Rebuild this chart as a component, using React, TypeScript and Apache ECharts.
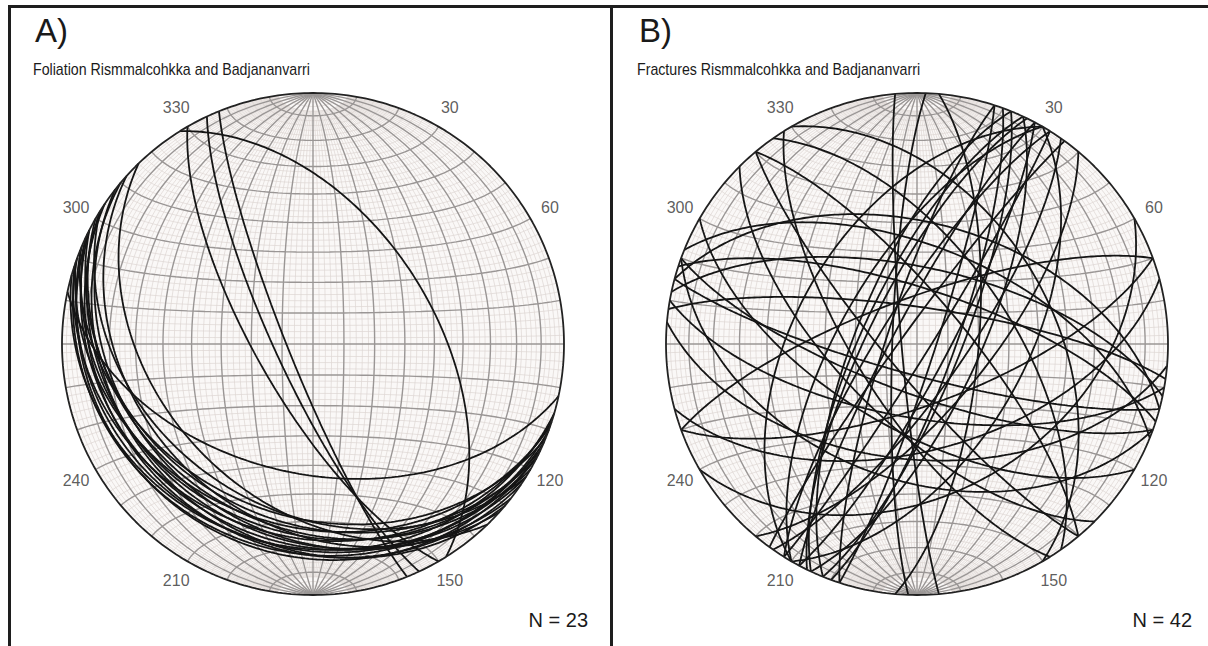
import React, { useEffect, useRef } from "react";
import * as echarts from "echarts";

// Azimuth labels around each net
const dialLabels = [30, 60, 90, 120, 150, 180, 210, 240, 270, 300, 330];

// A) Foliation planes: dip direction / dip (degrees), lower hemisphere
const foliationDipDir = [203, 207, 212, 200, 205, 210, 198, 214, 218, 207, 202, 220, 196, 212, 206, 222, 199, 192, 245, 248, 240, 58, 226];
const foliationDip = [20, 22, 24, 18, 26, 28, 24, 20, 26, 30, 32, 22, 20, 34, 17, 30, 28, 47, 78, 82, 72, 50, 38];

// B) Fracture planes: dip direction / dip (degrees)
const fractureDipDir = [118, 125, 298, 302, 115, 306, 122, 295, 130, 300, 110, 288, 108, 292, 18, 195, 12, 200, 22, 190, 8, 160, 340, 165, 210, 50, 230, 225, 55, 238, 272, 95, 265, 200, 15, 185, 120, 300, 60, 150, 112, 296];
const fractureDip = [80, 75, 82, 78, 70, 85, 86, 72, 68, 65, 78, 80, 84, 70, 72, 80, 65, 74, 58, 66, 78, 70, 75, 55, 62, 75, 80, 65, 60, 70, 82, 70, 85, 45, 50, 52, 55, 50, 45, 40, 76, 74];

const N_A = 23;
const N_B = 42;

const FONT = "'Liberation Sans', Arial, Helvetica, sans-serif";
const deg = Math.PI / 180;

function proj(n: number, e: number, d: number): number[] {
  const dd = Math.max(0, d);
  const k = 1 / Math.sqrt(1 + dd);
  return [e * k, n * k];
}

function greatCircle(dipDir: number, dip: number, w0 = 0, w1 = 180, step = 1): number[][] {
  const s = (dipDir - 90) * deg;
  const a = dipDir * deg;
  const b = dip * deg;
  const pts: number[][] = [];
  for (let w = w0; w <= w1 + 1e-9; w += step) {
    const c = Math.cos(w * deg);
    const sn = Math.sin(w * deg);
    const n = c * Math.cos(s) + sn * Math.cos(b) * Math.cos(a);
    const e = c * Math.sin(s) + sn * Math.cos(b) * Math.sin(a);
    const d = sn * Math.sin(b);
    pts.push(proj(n, e, d));
  }
  return pts;
}

function smallCircle(alpha: number, step = 2): number[][] {
  const pts: number[][] = [];
  const ca = Math.cos(alpha * deg);
  const sa = Math.sin(alpha * deg);
  for (let p = 0; p <= 180 + 1e-9; p += step) {
    pts.push(proj(ca, sa * Math.cos(p * deg), sa * Math.sin(p * deg)));
  }
  return pts;
}

function primitive(): number[][] {
  const pts: number[][] = [];
  for (let t = 0; t <= 360; t += 1) pts.push([Math.sin(t * deg), Math.cos(t * deg)]);
  return pts;
}

function line(data: number[][], idx: number, color: string, width: number, z: number) {
  return {
    type: "line",
    data,
    xAxisIndex: idx,
    yAxisIndex: idx,
    showSymbol: false,
    symbol: "none",
    silent: true,
    clip: false,
    z,
    lineStyle: { color, width },
  };
}

function netSeries(idx: number): any[] {
  const out: any[] = [];
  const minorC = "#d8d0cd";
  const majorC = "#9a9695";
  for (let a = 2; a <= 178; a += 2) {
    const major = a % 10 === 0;
    out.push(line(smallCircle(a), idx, major ? majorC : minorC, major ? 1.4 : 0.6, major ? 2 : 1));
  }
  for (let dip = 2; dip <= 90; dip += 2) {
    const major = dip % 10 === 0;
    const lim = major ? 0 : 8;
    const dirs = dip === 90 ? [90] : [90, 270];
    for (const dd of dirs) {
      out.push(line(greatCircle(dd, dip, lim, 180 - lim, 2), idx, major ? majorC : minorC, major ? 1.4 : 0.6, major ? 2 : 1));
    }
  }
  return out;
}

function labelSeries(idx: number) {
  const r = 1.09;
  return {
    type: "scatter",
    xAxisIndex: idx,
    yAxisIndex: idx,
    symbolSize: 0,
    silent: true,
    z: 5,
    data: dialLabels.map((v) => [r * Math.sin(v * deg), r * Math.cos(v * deg), v]),
    label: {
      show: true,
      position: "inside",
      formatter: (p: any) => String(p.value[2]),
      color: "#333",
      fontSize: 16,
      fontFamily: FONT,
    },
  };
}

export default function App() {
  const ref = useRef<HTMLDivElement>(null);
  useEffect(() => {
    if (!ref.current) return;
    const chart = echarts.init(ref.current, undefined, { renderer: "svg" });
    const series: any[] = [];
    series.push(...netSeries(0));
    series.push(...netSeries(1));
    series.push(line(primitive(), 0, "#222", 1.8, 4));
    series.push(line(primitive(), 1, "#222", 1.8, 4));
    foliationDipDir.forEach((dd, i) => series.push(line(greatCircle(dd, foliationDip[i]), 0, "#151515", 1.8, 3)));
    fractureDipDir.forEach((dd, i) => series.push(line(greatCircle(dd, fractureDip[i]), 1, "#151515", 1.8, 3)));
    series.push(labelSeries(0));
    series.push(labelSeries(1));

    const cxA = 313, cxB = 917, cy = 344, R = 251;
    chart.setOption({
      animation: false,
      backgroundColor: "#ffffff",
      grid: [
        { left: cxA - R, top: cy - R, width: 2 * R, height: 2 * R },
        { left: cxB - R, top: cy - R, width: 2 * R, height: 2 * R },
      ],
      xAxis: [
        { gridIndex: 0, type: "value", min: -1, max: 1, show: false },
        { gridIndex: 1, type: "value", min: -1, max: 1, show: false },
      ],
      yAxis: [
        { gridIndex: 0, type: "value", min: -1, max: 1, show: false },
        { gridIndex: 1, type: "value", min: -1, max: 1, show: false },
      ],
      graphic: [
        { type: "circle", z: -10, shape: { cx: cxA, cy, r: R }, style: { fill: "#faf8f7" } },
        { type: "circle", z: -10, shape: { cx: cxB, cy, r: R }, style: { fill: "#faf8f7" } },
        { type: "line", shape: { x1: 9.5, y1: 5, x2: 9.5, y2: 646 }, style: { stroke: "#1e1e1e", lineWidth: 3 } },
        { type: "line", shape: { x1: 8, y1: 6.5, x2: 1208, y2: 6.5 }, style: { stroke: "#1e1e1e", lineWidth: 3 } },
        { type: "line", shape: { x1: 611.5, y1: 5, x2: 611.5, y2: 646 }, style: { stroke: "#1e1e1e", lineWidth: 3 } },
        { type: "text", x: 35, y: 30, style: { text: "A)", fontSize: 33, fontFamily: FONT, fill: "#1a1a1a", textVerticalAlign: "middle" } },
        { type: "text", x: 33, y: 69, scaleY: 1.12, style: { text: "Foliation Rismmalcohkka and Badjananvarri", fontSize: 14.2, fontFamily: FONT, fill: "#1a1a1a", textVerticalAlign: "middle" } },
        { type: "text", x: 639, y: 30, style: { text: "B)", fontSize: 33, fontFamily: FONT, fill: "#1a1a1a", textVerticalAlign: "middle" } },
        { type: "text", x: 637, y: 69, scaleY: 1.12, style: { text: "Fractures Rismmalcohkka and Badjananvarri", fontSize: 14.2, fontFamily: FONT, fill: "#1a1a1a", textVerticalAlign: "middle" } },
        { type: "text", x: 588, y: 620, style: { text: "N = " + N_A, fontSize: 20, fontFamily: FONT, fill: "#1a1a1a", textAlign: "right", textVerticalAlign: "middle" } },
        { type: "text", x: 1192, y: 620, style: { text: "N = " + N_B, fontSize: 20, fontFamily: FONT, fill: "#1a1a1a", textAlign: "right", textVerticalAlign: "middle" } },
      ],
      series,
    });
    return () => chart.dispose();
  }, []);
  return <div ref={ref} style={{ position: "fixed", left: 0, top: 0, width: 1208, height: 646 }} />;
}
